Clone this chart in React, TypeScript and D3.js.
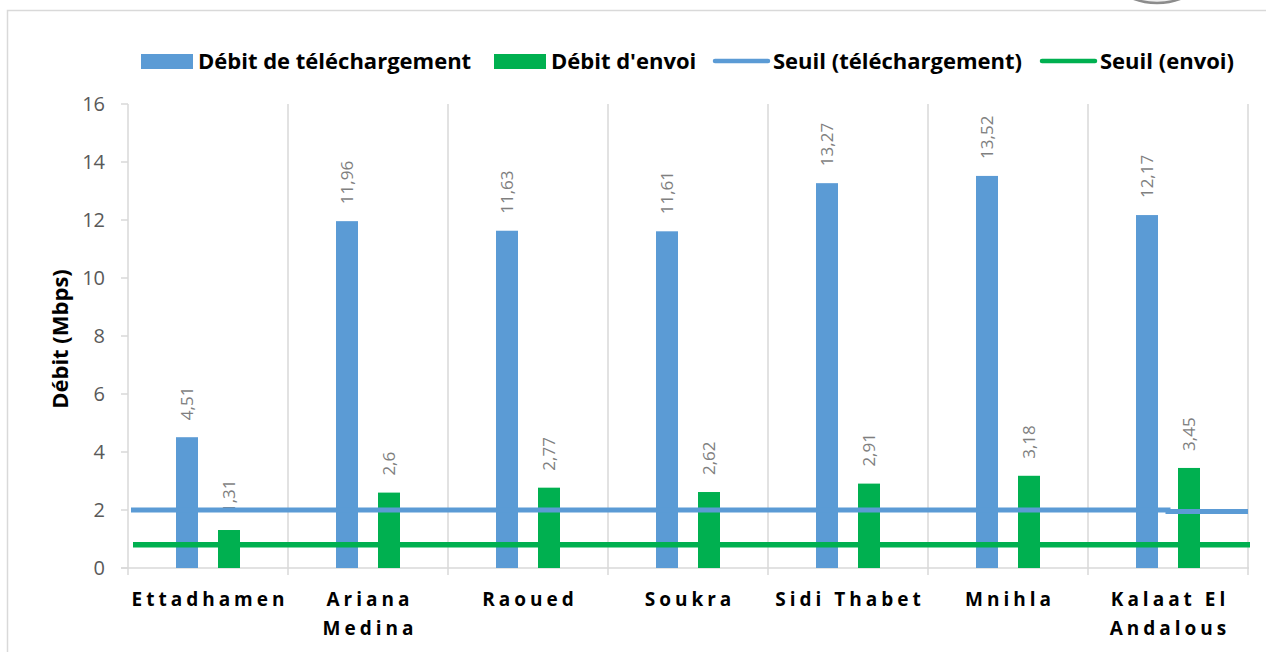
import React from "react";
import * as d3 from "d3";

const categories: string[][] = [
  ["Ettadhamen"],
  ["Ariana", "Medina"],
  ["Raoued"],
  ["Soukra"],
  ["Sidi Thabet"],
  ["Mnihla"],
  ["Kalaat El", "Andalous"],
];
const downloadValues = [4.51, 11.96, 11.63, 11.61, 13.27, 13.52, 12.17];
const uploadValues = [1.31, 2.6, 2.77, 2.62, 2.91, 3.18, 3.45];
const downloadThreshold = [2, 2, 2, 2, 2, 2, 1.95];
const uploadThreshold = [0.8, 0.8, 0.8, 0.8, 0.8, 0.8, 0.8];
const yTicks = [0, 2, 4, 6, 8, 10, 12, 14, 16];
const seriesKeys = ["download", "upload"];
const seriesLabels = ["Débit de téléchargement", "Débit d'envoi"];
const lineLabels = ["Seuil (téléchargement)", "Seuil (envoi)"];
const yTitle = "Débit (Mbps)";

const W = 1266;
const H = 652;
const BLUE = "#5b9bd5";
const GREEN = "#00b050";
const GRID = "#d9d9d9";
const FONT = "'Open Sans', sans-serif";

const fmt = (v: number) => String(v).replace(".", ",");

export default function App() {
  const left = 128;
  const right = 1248;
  const top = 104;
  const bottom = 568;
  const ids = categories.map((_, i) => String(i));
  const x0 = d3.scaleBand().domain(ids).range([left, right]).padding(0);
  const x1 = d3.scaleBand().domain(seriesKeys).range([-32, 32]).paddingInner(2 - 64 / 42).paddingOuter(0);
  const y = d3.scaleLinear().domain([0, 16]).range([bottom, top]);
  const series = [downloadValues, uploadValues];
  const colors = [BLUE, GREEN];
  const center = (i: number) => (x0(String(i)) as number) + x0.bandwidth() / 2;

  const stepLine = (vals: number[], x0px: number, x1px: number) => {
    const pts: [number, number][] = [[x0px, vals[0]]];
    vals.forEach((v, i) => pts.push([center(i), v]));
    pts.push([x1px, vals[vals.length - 1]]);
    return d3
      .line<[number, number]>()
      .x((d) => d[0])
      .y((d) => y(d[1]))
      .curve(d3.curveStepAfter)(pts) as string;
  };

  const boundaries = ids.map((id) => x0(id) as number).concat([right]);

  const legendX = [141, 494, 715, 1042];
  const legendY = 61;

  return (
    <svg
      width={W}
      height={H}
      style={{ position: "absolute", left: 0, top: 0, background: "#fff" }}
      fontFamily={FONT}
    >
      <rect x={0} y={0} width={W} height={H} fill="#fff" />
      {/* outer frame */}
      <rect x={7.5} y={10.5} width={W + 20} height={H + 20} fill="none" stroke={GRID} strokeWidth={1.5} />
      <circle cx={1157} cy={-62} r={65} fill="#eeeeee" stroke="#8c8c8c" strokeWidth={2.5} />

      {/* legend */}
      {seriesLabels.map((lab, i) => (
        <g key={lab}>
          <rect x={legendX[i]} y={legendY - 7} width={52} height={15} fill={colors[i]} />
          <text x={legendX[i] + 57} y={legendY} dy="0.35em" fontSize={22} fontWeight="bold" fill="#000">
            {lab}
          </text>
        </g>
      ))}
      {lineLabels.map((lab, i) => (
        <g key={lab}>
          <line x1={legendX[i + 2]} x2={legendX[i + 2] + 53} y1={legendY} y2={legendY} stroke={colors[i]} strokeWidth={4.5} strokeLinecap="round" />
          <text x={legendX[i + 2] + 58} y={legendY} dy="0.35em" fontSize={22} fontWeight="bold" fill="#000">
            {lab}
          </text>
        </g>
      ))}

      {/* vertical gridlines */}
      {boundaries.map((bx, i) => (
        <line key={i} x1={bx} x2={bx} y1={top} y2={bottom + 7} stroke={GRID} strokeWidth={1.5} />
      ))}
      {/* y axis ticks */}
      {yTicks.map((t) => (
        <g key={t}>
          <line x1={left - 7} x2={left} y1={y(t)} y2={y(t)} stroke={GRID} strokeWidth={1.5} />
          <text x={105} y={y(t)} dy="0.35em" textAnchor="end" fontSize={20} fill="#595959">
            {t}
          </text>
        </g>
      ))}
      <line x1={left - 7} x2={right + 1} y1={bottom} y2={bottom} stroke={GRID} strokeWidth={1.5} />

      {/* y title */}
      <text
        transform={`translate(60, ${(top + bottom) / 2 + 3}) rotate(-90)`}
        textAnchor="middle"
        dy="0.35em"
        fontSize={22}
        fontWeight="bold"
        fill="#000"
      >
        {yTitle}
      </text>

      {/* bars */}
      {series.map((vals, s) =>
        vals.map((v, i) => {
          const bx = center(i) + (x1(seriesKeys[s]) as number);
          return (
            <rect
              key={`${s}-${i}`}
              x={bx}
              y={y(v)}
              width={x1.bandwidth()}
              height={y(0) - y(v)}
              fill={colors[s]}
            />
          );
        })
      )}

      {/* data labels */}
      {series.map((vals, s) =>
        vals.map((v, i) => {
          const cx = center(i) + (x1(seriesKeys[s]) as number) + x1.bandwidth() / 2;
          return (
            <text
              key={`l-${s}-${i}`}
              transform={`translate(${cx}, ${y(v) - 17}) rotate(-90)`}
              dy="0.36em"
              fontSize={17}
              fill="#7f7f7f"
            >
              {fmt(v)}
            </text>
          );
        })
      )}

      {/* threshold lines */}
      <path d={stepLine(downloadThreshold, left + 3, right)} fill="none" stroke={BLUE} strokeWidth={5} />
      <path d={stepLine(uploadThreshold, left + 5, right + 2)} fill="none" stroke={GREEN} strokeWidth={5.5} />

      {/* x labels */}
      {categories.map((lines, i) => (
        <text key={i} textAnchor="middle" fontSize={19} fontWeight="bold" fill="#000" letterSpacing={4}>
          {lines.map((ln, k) => (
            <tspan key={k} x={center(i) + 2} y={599 + k * 29} dy="0.35em">
              {ln}
            </tspan>
          ))}
        </text>
      ))}
    </svg>
  );
}
